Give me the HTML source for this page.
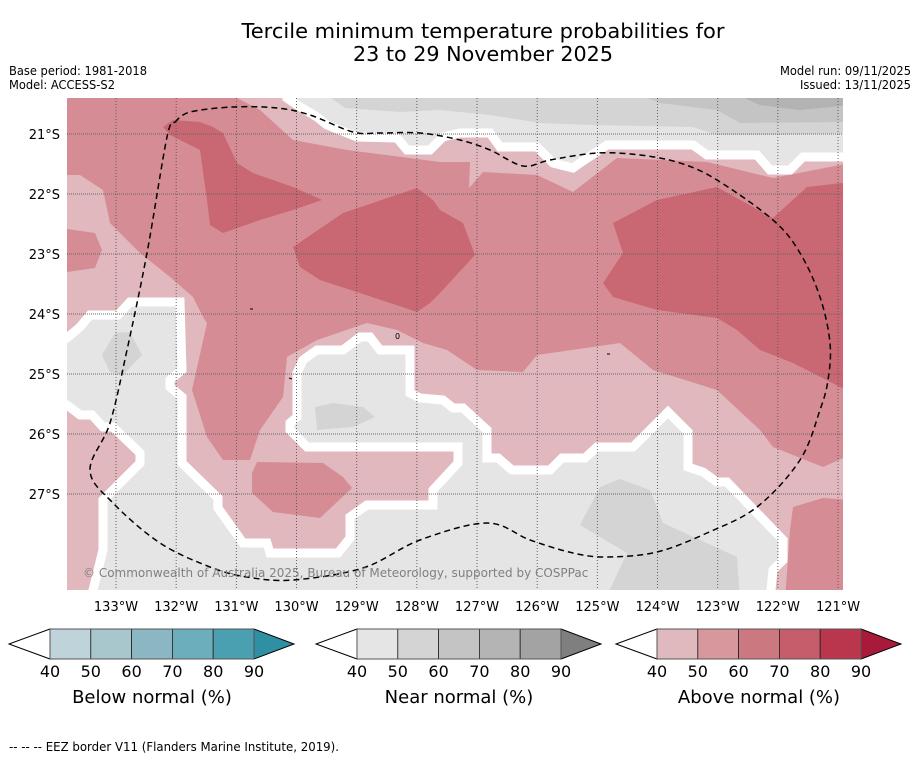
<!DOCTYPE html>
<html><head><meta charset="utf-8"><style>
html,body{margin:0;padding:0;background:#fff;width:919px;height:758px;overflow:hidden}
svg{display:block;font-family:"DejaVu Sans","Liberation Sans",sans-serif}
</style></head><body>
<svg id="fig" width="919" height="758" viewBox="0 0 919 758">
<text x="483" y="38" font-size="20" text-anchor="middle" textLength="483" lengthAdjust="spacingAndGlyphs">Tercile minimum temperature probabilities for</text>
<text x="483" y="61" font-size="20" text-anchor="middle" textLength="260" lengthAdjust="spacingAndGlyphs">23 to 29 November 2025</text>
<text x="9" y="75" font-size="12" textLength="138" lengthAdjust="spacingAndGlyphs">Base period: 1981-2018</text>
<text x="9" y="89" font-size="12" textLength="106" lengthAdjust="spacingAndGlyphs">Model: ACCESS-S2</text>
<text x="911" y="75" font-size="12" text-anchor="end" textLength="131" lengthAdjust="spacingAndGlyphs">Model run: 09/11/2025</text>
<text x="911" y="89" font-size="12" text-anchor="end" textLength="111" lengthAdjust="spacingAndGlyphs">Issued: 13/11/2025</text>
<defs><clipPath id="mapclip"><rect x="67" y="98" width="776" height="492"/></clipPath></defs>
<g id="map" clip-path="url(#mapclip)"></g>
<g id="axes"></g>
<g id="bars"></g>
<text x="9" y="751" font-size="12" textLength="330" lengthAdjust="spacingAndGlyphs">--  --  -- EEZ border V11 (Flanders Marine Institute, 2019).</text>
</svg>
<script>
// Axis data
const lonTicks = [133,132,131,130,129,128,127,126,125,124,123,122,121];
const latTicks = [21,22,23,24,25,26,27];
// Colorbar data
const levels = [40,50,60,70,80,90];
const belowColors = ["#bfd4da","#a8c7cc","#8ab7c1","#6daebc","#4aa0b0","#2f90a3"];
const nearColors = ["#e5e5e5","#d4d4d4","#c4c4c4","#b4b4b4","#a3a3a3","#7f7f7f"];
const aboveColors = ["#e0b9be","#d6979d","#cc7880","#c55d6b","#b9364c","#a8193a"];
const barTitles = ["Below normal (%)","Near normal (%)","Above normal (%)"];
// Map fill colours
const cLight="#e0b8bd", cMid="#d68c94", cDark="#c96872";
const gLight="#e5e5e5", g2="#d4d4d4", g3="#c4c4c4", g4="#b3b3b3";
// Contour regions (map pixel outline points)
const regions = [
 {name:"above-40-top-band",fill:cLight,pts:[[237,98],[850,90],[850,163],[773,178],[707,162],[617,158],[573,192],[537,175],[483,172],[469,188],[470,162],[440,162],[347,150],[293,140],[260,110]]},
 {name:"above-40-lower",fill:cLight,pts:[[60,175],[80,175],[103,190],[110,223],[140,253],[170,277],[193,297],[203,317],[207,323],[192,390],[207,437],[223,460],[250,460],[260,430],[283,397],[287,357],[317,340],[367,323],[397,330],[423,343],[447,350],[477,370],[523,372],[537,355],[620,343],[653,370],[717,390],[760,430],[773,447],[823,467],[850,455],[850,600],[60,600]]},
 {name:"above-50-left-tongue",fill:cMid,pts:[[60,228],[95,233],[102,250],[95,268],[60,273]]},
 {name:"above-50-island",fill:cMid,pts:[[257,462],[323,463],[343,477],[352,488],[320,518],[273,512],[252,493],[252,473]]},
 {name:"above-50-bottom-right",fill:cMid,pts:[[793,507],[823,498],[850,500],[850,600],[785,600],[790,530]]},
 {name:"above-60-top-left",fill:cDark,pts:[[163,127],[173,120],[200,122],[213,127],[223,133],[237,163],[253,173],[293,187],[322,200],[293,210],[260,220],[223,233],[210,225],[207,200],[200,150],[170,135]]},
 {name:"above-60-center",fill:cDark,pts:[[293,247],[343,213],[417,188],[433,200],[440,210],[463,223],[475,255],[440,293],[430,303],[417,312],[360,293],[320,280],[300,267]]},
 {name:"above-60-right",fill:cDark,pts:[[613,223],[657,200],[717,187],[773,218],[807,187],[850,182],[850,392],[793,363],[760,350],[737,330],[717,318],[657,310],[613,297],[603,283],[623,253]]},
 {name:"near-40-top",fill:gLight,stroke:true,pts:[[287,90],[287,98],[297,105],[317,117],[327,125],[357,137],[397,138],[407,150],[430,150],[443,137],[460,133],[490,133],[500,147],[537,147],[553,163],[573,168],[580,163],[607,145],[693,145],[707,155],[757,155],[770,170],[790,170],[803,157],[843,157],[855,157],[855,90]]},
 {name:"near-50-top",fill:g2,pts:[[320,90],[345,108],[400,112],[440,110],[490,115],[540,123],[593,125],[693,127],[717,135],[773,135],[850,133],[850,90]]},
 {name:"near-60-top",fill:g3,pts:[[627,90],[660,103],[717,110],[740,123],[850,122],[850,90]]},
 {name:"near-70-top",fill:g4,pts:[[727,90],[760,105],[800,110],[850,105],[850,90]]},
 {name:"near-40-lower",fill:gLight,stroke:true,pts:[[55,338],[67,338],[80,327],[90,315],[118,315],[130,302],[180,302],[182,370],[170,380],[170,387],[182,397],[182,463],[218,498],[218,508],[243,543],[267,543],[270,553],[338,553],[350,538],[350,517],[367,505],[433,505],[433,490],[458,463],[458,447],[307,447],[290,430],[290,423],[297,417],[297,373],[303,360],[317,350],[343,350],[360,337],[370,337],[380,350],[410,350],[410,393],[420,398],[443,400],[453,408],[463,408],[487,430],[487,458],[498,458],[512,470],[550,470],[562,458],[585,458],[597,447],[633,447],[668,412],[688,432],[688,467],[703,472],[717,482],[727,482],[783,540],[783,560],[773,570],[770,600],[93,600],[93,590],[103,550],[103,500],[140,463],[140,453],[113,427],[103,427],[92,415],[80,415],[67,405],[55,405]]},
 {name:"near-50-left-blob",fill:g2,pts:[[102,355],[115,333],[130,332],[142,355],[123,375],[110,372]]},
 {name:"near-50-mid-blob",fill:g2,pts:[[315,407],[333,403],[363,407],[375,417],[353,427],[317,430]]},
 {name:"near-50-bottom-blob",fill:g2,pts:[[580,525],[600,487],[620,479],[650,490],[663,523],[737,557],[740,600],[605,600],[627,553]]}
];
const eez = [[175,122],[190,112],[233,107],[277,108],[310,115],[353,132],[380,133],[420,133],[460,140],[490,150],[523,166],[550,160],[597,153],[640,155],[680,163],[717,180],[773,220],[800,253],[820,297],[830,343],[828,380],[820,410],[800,460],[757,507],[707,533],[657,552],[607,557],[573,553],[530,540],[487,523],[420,540],[363,568],[293,580],[247,577],[210,567],[160,543],[113,503],[90,470],[110,423],[127,350],[147,253],[167,137],[175,122]];

const NS="http://www.w3.org/2000/svg";
function mk(tag,attrs,parent){const e=document.createElementNS(NS,tag);for(const k in attrs)e.setAttribute(k,attrs[k]);parent.appendChild(e);return e;}
const xOf = lon => 116 + (133-lon)*60.17;
const yOf = lat => 134 + (lat-21)*60;
function smoothPath(p){
  let d=`M${p[0][0]},${p[0][1]}`;
  for(let i=0;i<p.length-1;i++){
    const a=p[Math.max(0,i-1)],b=p[i],c=p[i+1],e=p[Math.min(p.length-1,i+2)];
    const c1=[b[0]+(c[0]-a[0])/6,b[1]+(c[1]-a[1])/6],c2=[c[0]-(e[0]-b[0])/6,c[1]-(e[1]-b[1])/6];
    d+=` C${c1[0]},${c1[1]} ${c2[0]},${c2[1]} ${c[0]},${c[1]}`;
  }
  return d;
}

const map=document.getElementById('map');
let r=mk('rect',{x:67,y:98,width:776,height:492,fill:cMid},map);


regions.forEach(g=>{
  const p=mk('polygon',{points:g.pts.map(q=>q.join(',')).join(' '),fill:g.fill},map);
  if(g.stroke){p.setAttribute('stroke','#fff');p.setAttribute('stroke-width','9');p.setAttribute('stroke-linejoin','miter');}
  
  
});
lonTicks.forEach(l=>{
  const ln=mk('line',{x1:xOf(l),x2:xOf(l),y1:98,y2:590,stroke:'#555','stroke-width':0.9,'stroke-dasharray':'1,2'},map);
  
  
});
latTicks.forEach(l=>{
  const ln=mk('line',{x1:67,x2:843,y1:yOf(l),y2:yOf(l),stroke:'#666','stroke-width':0.9,'stroke-dasharray':'1,1'},map);
  
  
});
const ez=mk('path',{d:smoothPath(eez),fill:'none',stroke:'#000','stroke-width':1.5,'stroke-dasharray':'6,4'},map);


[[250,309,253,309],[289,378,292,379],[607,354,610,354]].forEach(d=>{
  const m=mk('line',{x1:d[0],y1:d[1],x2:d[2],y2:d[3],stroke:'#000','stroke-width':1},map);
  
  
});
const isl=mk('text',{x:395,y:339,'font-size':8},map);isl.textContent='0';


const cp=mk('text',{x:83,y:577,'font-size':12,fill:'#808080'},map);
cp.textContent='© Commonwealth of Australia 2025, Bureau of Meteorology, supported by COSPPac';



const axes=document.getElementById('axes');
lonTicks.forEach(l=>{
  const t=mk('text',{x:xOf(l),y:611,'font-size':13,'text-anchor':'middle'},axes);
  t.textContent=l+'°W';
  
  
});
latTicks.forEach(l=>{
  const t=mk('text',{x:60,y:yOf(l)+5,'font-size':13,'text-anchor':'end'},axes);
  t.textContent=l+'°S';
  
  
});

const bars=document.getElementById('bars');
const barLefts=[50,357,657];
const cbW=204, segW=cbW/(levels.length-1), yT=629, yB=659, yM=644;
[belowColors,nearColors,aboveColors].forEach((cols,i)=>{
  const x0=barLefts[i];
  const lt=mk('polygon',{points:`${x0},${yT} ${x0-41},${yM} ${x0},${yB}`,fill:'#fff',stroke:'#000','stroke-width':1},bars);
  
  
  for(let k=0;k<levels.length-1;k++){
    const s=mk('rect',{x:x0+k*segW,y:yT,width:segW,height:yB-yT,fill:cols[k],stroke:'#222','stroke-width':0.8},bars);
    
    
  }
  const rt=mk('polygon',{points:`${x0+cbW},${yT} ${x0+cbW+40},${yM} ${x0+cbW},${yB}`,fill:cols[levels.length-1],stroke:'#000','stroke-width':1},bars);
  
  
  const fr=mk('rect',{x:x0,y:yT,width:cbW,height:yB-yT,fill:'none',stroke:'#555','stroke-width':1},bars);
  
  
  levels.forEach((v,k)=>{
    const t=mk('text',{x:x0+k*segW,y:677,'font-size':16,'text-anchor':'middle'},bars);
    t.textContent=v;
    
    
  });
  const tt=mk('text',{x:x0+cbW/2,y:703,'font-size':18,'text-anchor':'middle'},bars);
  tt.textContent=barTitles[i];
  
  
});
</script>
</body></html>
